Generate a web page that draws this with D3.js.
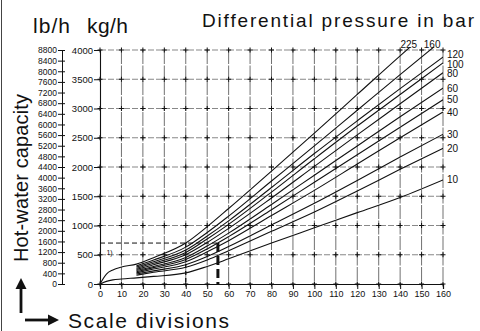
<!DOCTYPE html>
<html>
<head>
<meta charset="utf-8">
<script src="https://cdn.jsdelivr.net/npm/d3@7/dist/d3.min.js"></script>
<style>
  body { margin: 0; background: #fff; }
  svg { display: block; }
  text { font-family: "Liberation Sans", Arial, Helvetica, sans-serif; fill: #111; }
</style>
</head>
<body>
<div id="chart"></div>
<script>
// scale divisions shared by all curves (null = curve not drawn there)
const divisions = [0, 3, 6, 10, 17, 25, 40, 50, 60, 80, 100, 120, 140, 160];

// hot-water capacity in kg/h, one array per differential pressure (bar)
const flow225 = [0, 170, 240, 290, 340, 450, 700, 980, 1290, 1930, 2580, 3240, 3900, 4540];
const flow160 = [null, null, null, null, 310, 410, 630, 880, 1160, 1760, 2360, 2970, 3580, 4180];
const flow120 = [null, null, null, null, 290, 380, 580, 820, 1080, 1650, 2230, 2790, 3340, 3880];
const flow100 = [null, null, null, null, 270, 355, 540, 770, 1020, 1570, 2140, 2700, 3240, 3780];
const flow80  = [null, null, null, null, 250, 330, 500, 710, 950, 1470, 2010, 2550, 3080, 3610];
const flow60  = [null, null, null, null, 230, 300, 455, 650, 870, 1360, 1860, 2360, 2860, 3350];
const flow50  = [null, null, null, null, 210, 280, 420, 600, 810, 1270, 1740, 2210, 2680, 3150];
const flow40  = [null, null, null, null, 190, 255, 380, 550, 740, 1170, 1600, 2050, 2500, 2940];
const flow30  = [null, null, null, null, 170, 225, 330, 470, 640, 1010, 1380, 1770, 2170, 2560];
const flow20  = [null, null, null, null, 150, 200, 285, 410, 570, 900, 1230, 1590, 1960, 2320];
const flow10  = [0, 45, 70, 85, 105, 130, 190, 300, 430, 700, 960, 1220, 1480, 1780];

const pressureLabels = ['225', '160', '120', '100', '80', '60', '50', '40', '30', '20', '10'];
const flows = [flow225, flow160, flow120, flow100, flow80, flow60, flow50, flow40, flow30, flow20, flow10];

const xTicks = d3.range(0, 161, 10);
const kgTicks = d3.range(0, 4001, 500);
const lbTicks = d3.range(0, 8801, 400);

// footnote 1) marker
const noteFlow = 700;
const noteDivA = 40;
const noteDivB = 55;

const boxWidth = 480;
const boxHeight = 331;

const svg = d3.select('#chart')
  .append('svg')
  .attr('width', boxWidth)
  .attr('height', boxHeight);

const xScale = d3.scaleLinear().domain([0, 160]).range([100, 443]);
const yScale = d3.scaleLinear().domain([0, 4000]).range([284, 50]);
const lbScale = d3.scaleLinear().domain([0, 8800]).range([284, 50]);

// left scan border
svg.append('line')
  .attr('x1', 1.5).attr('x2', 1.5).attr('y1', 0).attr('y2', boxHeight)
  .attr('stroke', '#444').attr('stroke-width', 1);

// ---------- grid ----------
const grid = svg.append('g');
grid.selectAll('line.v')
  .data(xTicks.slice(1))
  .enter().append('line')
  .attr('x1', d => xScale(d)).attr('x2', d => xScale(d))
  .attr('y1', yScale(4000)).attr('y2', yScale(0))
  .attr('stroke', '#333').attr('stroke-width', 0.7)
  .attr('stroke-dasharray', '14,1.5');

grid.selectAll('line.h')
  .data(kgTicks.slice(1))
  .enter().append('line')
  .attr('x1', xScale(0)).attr('x2', xScale(160))
  .attr('y1', d => yScale(d)).attr('y2', d => yScale(d))
  .attr('stroke', '#555').attr('stroke-width', 0.7)
  .attr('stroke-dasharray', '6,2');

// small crosses at intersections
const crosses = [];
xTicks.forEach(a => kgTicks.forEach(b => crosses.push([a, b])));
grid.selectAll('path.cross')
  .data(crosses)
  .enter().append('path')
  .attr('d', d => {
    const cx = xScale(d[0]), cy = yScale(d[1]);
    return `M${cx - 2.5},${cy}H${cx + 2.5}M${cx},${cy - 2.5}V${cy + 2.5}`;
  })
  .attr('stroke', '#111').attr('stroke-width', 1);

// ---------- axes ----------
const xAxis = d3.axisBottom(xScale).tickValues(xTicks).tickSize(5).tickPadding(2)
  .tickFormat(d3.format('d'));
const xAxisGroup = svg.append('g')
  .attr('transform', `translate(0, ${yScale(0)})`)
  .call(xAxis);
xAxisGroup.select('.domain').attr('stroke', '#111').attr('stroke-width', 1.2);
xAxisGroup.selectAll('line').attr('stroke', '#111');
xAxisGroup.selectAll('text')
  .style('font-family', '"Liberation Sans", Arial, sans-serif')
  .style('font-size', '9px').attr('fill', '#111');

const yAxis = d3.axisLeft(yScale).tickValues(kgTicks).tickSize(6).tickPadding(1)
  .tickFormat(d3.format('d'));
const yAxisGroup = svg.append('g')
  .attr('transform', `translate(${xScale(0)}, 0)`)
  .call(yAxis);
yAxisGroup.select('.domain').attr('stroke', '#111').attr('stroke-width', 1.1);
yAxisGroup.selectAll('line').attr('stroke', '#111');
yAxisGroup.selectAll('text')
  .style('font-family', '"Liberation Sans", Arial, sans-serif')
  .style('font-size', '9.5px').attr('fill', '#111');

const lbAxis = d3.axisLeft(lbScale).tickValues(lbTicks).tickSize(4).tickPadding(1)
  .tickFormat(d3.format('d'));
const lbAxisGroup = svg.append('g')
  .attr('transform', 'translate(62, 0)')
  .call(lbAxis);
lbAxisGroup.select('.domain').attr('stroke', '#111').attr('stroke-width', 1);
lbAxisGroup.selectAll('.tick line').attr('x2', 3).attr('x1', -4).attr('stroke', '#111');
lbAxisGroup.selectAll('text')
  .style('font-family', '"Liberation Sans", Arial, sans-serif')
  .style('font-size', '8.5px').attr('x', -5).attr('fill', '#111');

// ---------- curves ----------
svg.append('clipPath').attr('id', 'plot-clip')
  .append('rect')
  .attr('x', xScale(0)).attr('y', yScale(4000) - 3)
  .attr('width', xScale(160) - xScale(0)).attr('height', yScale(0) - yScale(4000) + 3);

const line = d3.line()
  .defined(d => d.v != null)
  .x(d => xScale(d.x))
  .y(d => yScale(d.v))
  .curve(d3.curveMonotoneX);

const series = pressureLabels.map((p, i) => ({
  label: p,
  points: divisions.map((x, j) => ({ x: x, v: flows[i][j] }))
}));

svg.append('g').attr('clip-path', 'url(#plot-clip)')
  .selectAll('path')
  .data(series)
  .enter().append('path')
  .attr('d', d => line(d.points))
  .attr('fill', 'none')
  .attr('stroke', '#111')
  .attr('stroke-width', 1.1);

// labels: at right end, or at top where the curve leaves the grid
function topCrossing(points) {
  for (let j = 1; j < points.length; j++) {
    const a = points[j - 1], b = points[j];
    if (a.v != null && b.v != null && a.v <= 4000 && b.v > 4000) {
      return a.x + (b.x - a.x) * (4000 - a.v) / (b.v - a.v);
    }
  }
  return null;
}

const rightLabels = [];
series.forEach(s => {
  const last = s.points[s.points.length - 1];
  const cross = topCrossing(s.points);
  if (cross != null) {
    svg.append('text')
      .style('font-size', '10px')
      .attr('x', xScale(cross) + 2).attr('y', yScale(4000) - 2)
      .attr('text-anchor', 'middle')
      .text(s.label);
  } else {
    rightLabels.push({ label: s.label, y: yScale(last.v) });
  }
});

// push apart labels that sit too close together
const minGap = 9.5;
for (let k = 0; k < 5; k++) {
  for (let j = 1; j < rightLabels.length; j++) {
    const a = rightLabels[j - 1], b = rightLabels[j];
    const gap = b.y - a.y;
    if (gap < minGap) {
      const shift = (minGap - gap) / 2;
      a.y -= shift;
      b.y += shift;
    }
  }
}

svg.append('g').selectAll('text')
  .data(rightLabels)
  .enter().append('text')
  .style('font-size', '10px')
  .attr('x', xScale(160) + 4)
  .attr('y', d => d.y + 3.5)
  .text(d => d.label);

// ---------- footnote 1) construction ----------
svg.append('line')
  .attr('x1', xScale(0)).attr('x2', xScale(noteDivB))
  .attr('y1', yScale(noteFlow)).attr('y2', yScale(noteFlow))
  .attr('stroke', '#111').attr('stroke-width', 1)
  .attr('stroke-dasharray', '5,3');
svg.append('line')
  .attr('x1', xScale(noteDivA)).attr('x2', xScale(noteDivA))
  .attr('y1', yScale(noteFlow)).attr('y2', yScale(0))
  .attr('stroke', '#111').attr('stroke-width', 1.3)
  .attr('stroke-dasharray', '4,3');
svg.append('line')
  .attr('x1', xScale(noteDivB)).attr('x2', xScale(noteDivB))
  .attr('y1', yScale(noteFlow)).attr('y2', yScale(0))
  .attr('stroke', '#111').attr('stroke-width', 3)
  .attr('stroke-dasharray', '9,4');
svg.append('text')
  .attr('x', xScale(3)).attr('y', yScale(noteFlow) + 12)
  .style('font-size', '7px')
  .text('1)');

// ---------- titles ----------
svg.append('text').attr('x', 33).attr('y', 33)
  .style('font-size', '21px').attr('textLength', 37).text('lb/h');
svg.append('text').attr('x', 87).attr('y', 33)
  .style('font-size', '21px').attr('textLength', 41).text('kg/h');
svg.append('text').attr('x', 202).attr('y', 27)
  .style('font-size', '19px').attr('textLength', 272)
  .text('Differential pressure in bar');
svg.append('text')
  .attr('transform', 'translate(28, 262) rotate(-90)')
  .style('font-size', '20px').attr('textLength', 168)
  .text('Hot-water capacity');
svg.append('text').attr('x', 68).attr('y', 328)
  .style('font-size', '21px').attr('textLength', 161)
  .text('Scale divisions');

// arrows
svg.append('line').attr('x1', 21).attr('x2', 21).attr('y1', 313).attr('y2', 286)
  .attr('stroke', '#111').attr('stroke-width', 2.8);
svg.append('path').attr('d', 'M21,278L15.5,289L26.5,289Z').attr('fill', '#111');
svg.append('line').attr('x1', 25).attr('x2', 50).attr('y1', 320).attr('y2', 320)
  .attr('stroke', '#111').attr('stroke-width', 2.8);
svg.append('path').attr('d', 'M59,320L48,314.5L48,325.5Z').attr('fill', '#111');
</script>
</body>
</html>
